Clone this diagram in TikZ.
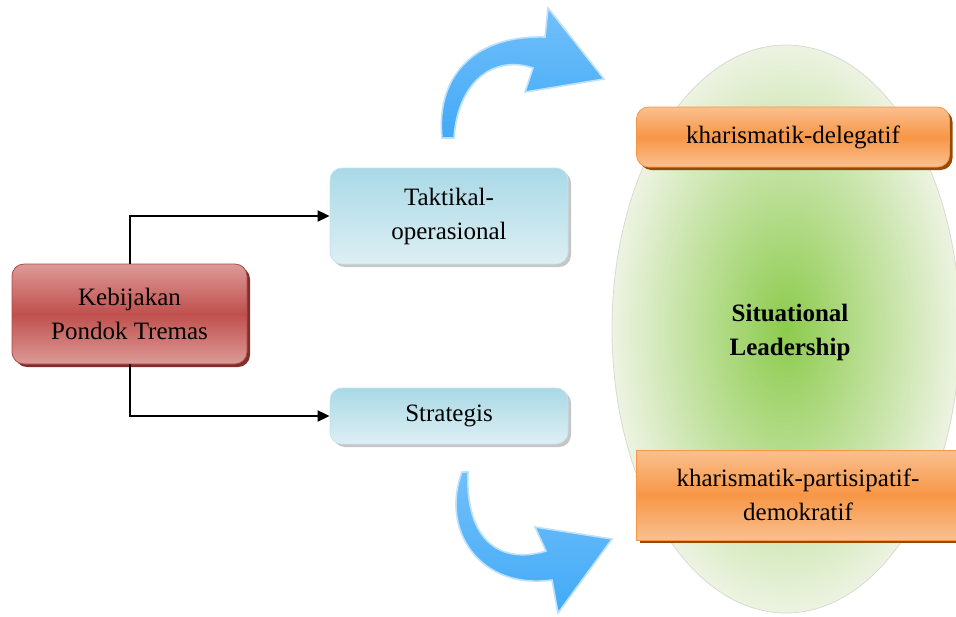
\documentclass[tikz,border=0pt]{standalone}
\usepackage{fontspec}
\setmainfont{Liberation Serif}
\usetikzlibrary{shapes, arrows.meta, positioning, shadows, shapes.geometric}

\definecolor{redbox}{HTML}{C0504D}
\definecolor{redlight}{HTML}{DC9A98}
\definecolor{redshadow}{HTML}{7F2F2C}
\definecolor{bluebox}{HTML}{A9D9E6}
\definecolor{bluelight}{HTML}{DDEFF4}
\definecolor{orangebox}{HTML}{F79646}
\definecolor{orangelight}{HTML}{FAC090}
\definecolor{orangeshadow}{HTML}{984807}
\definecolor{ellgreen}{HTML}{8CCB4C}
\definecolor{ellpale}{HTML}{EDF3E2}
\definecolor{arrowblue}{HTML}{42AAF7}

\begin{document}
\begin{tikzpicture}[x=0.5pt, y=-0.5pt,
  every node/.style={font=\fontsize{12.5}{17}\selectfont, align=center, inner sep=0pt},
  policy/.style={draw=redbox!90!black, rounded corners=6pt, top color=redlight, bottom color=redlight, middle color=redbox,
    minimum width=117.5pt, minimum height=50pt, drop shadow={shadow xshift=1.5pt, shadow yshift=-1.5pt, fill=redshadow, opacity=1}},
  level/.style={draw=bluebox!70!white, rounded corners=6pt, top color=bluebox, bottom color=bluelight,
    minimum width=119pt, drop shadow={shadow xshift=1.5pt, shadow yshift=-1.5pt, fill=gray!45, opacity=1}},
  leadbox/.style={draw=orangebox, top color=orangelight, bottom color=orangelight, middle color=orangebox,
    drop shadow={shadow xshift=1.5pt, shadow yshift=-1.5pt, fill=orangeshadow, opacity=1}},
  link/.style={line width=1pt, -{Triangle[length=6pt, width=5.5pt]}},
  bigarrow/.style={top color=arrowblue!75!white, bottom color=arrowblue, draw=arrowblue!35!white, line width=0.8pt}]

\useasboundingbox (0,0) rectangle (956,616);
\clip (0,0) rectangle (956,616);

% situational leadership ellipse
\shade[inner color=ellgreen, outer color=ellpale, draw=ellpale!80!gray] (786,329) ellipse [x radius=174, y radius=284];
\node[font=\fontsize{12.5}{17}\selectfont\bfseries] (sit) at (790,332) {Situational\\Leadership};

% curved arrows
\draw[bigarrow] (442,138) .. controls (436,80) and (470,35) .. (545,37) -- (548,8) -- (604,79) -- (525,92) -- (533,68)
  .. controls (495,55) and (458,80) .. (454,138) -- cycle;
\draw[bigarrow] (462,472) .. controls (440,530) and (480,590) .. (552,580) -- (558,613) -- (612,539) -- (535,527) -- (546,551)
  .. controls (500,565) and (465,540) .. (468,472) -- cycle;

% boxes
\node[policy] (keb) at (129.5,314) {Kebijakan\\Pondok Tremas};
\node[level, minimum height=48pt] (tak) at (449,216) {Taktikal-\\operasional};
\node[level, minimum height=28pt] (str) at (449,416) {Strategis};
\node[leadbox, rounded corners=6pt, minimum width=156.5pt, minimum height=30pt] (del) at (793,137) {kharismatik-delegatif};
\node[leadbox, minimum width=161.5pt, minimum height=45pt] (dem) at (798,495) {kharismatik-partisipatif-\\demokratif};

% connectors
\draw[link] (keb.north) |- (tak.west);
\draw[link] (keb.south) |- (str.west);
\end{tikzpicture}
\end{document}
